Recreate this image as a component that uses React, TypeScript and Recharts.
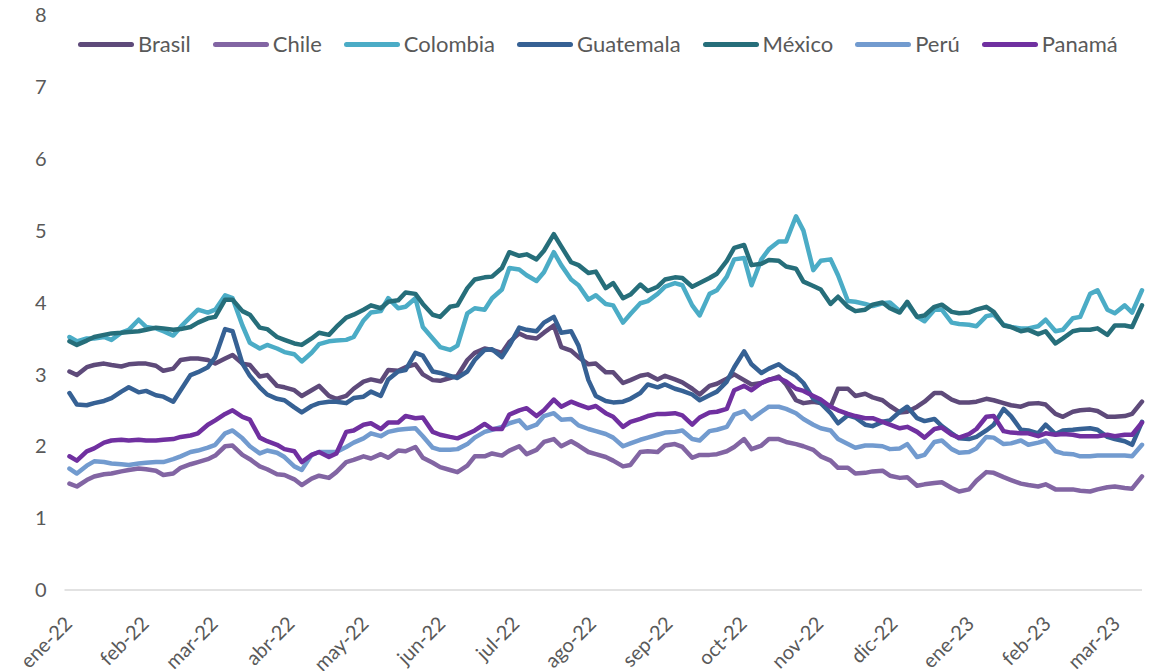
import { Line, LineChart, XAxis, YAxis } from "recharts";

// Fechas de observación (lunes y jueves)
const fechas = [
  "2022-01-03", "2022-01-06", "2022-01-10", "2022-01-13", "2022-01-17", "2022-01-20", "2022-01-24", "2022-01-27", "2022-01-31",
  "2022-02-03", "2022-02-07", "2022-02-10", "2022-02-14", "2022-02-17", "2022-02-21", "2022-02-24", "2022-02-28",
  "2022-03-03", "2022-03-07", "2022-03-10", "2022-03-14", "2022-03-17", "2022-03-21", "2022-03-24", "2022-03-28", "2022-03-31",
  "2022-04-04", "2022-04-07", "2022-04-11", "2022-04-14", "2022-04-18", "2022-04-21", "2022-04-25", "2022-04-28",
  "2022-05-02", "2022-05-05", "2022-05-09", "2022-05-12", "2022-05-16", "2022-05-19", "2022-05-23", "2022-05-26", "2022-05-30",
  "2022-06-02", "2022-06-06", "2022-06-09", "2022-06-13", "2022-06-16", "2022-06-20", "2022-06-23", "2022-06-27", "2022-06-30",
  "2022-07-04", "2022-07-07", "2022-07-11", "2022-07-14", "2022-07-18", "2022-07-21", "2022-07-25", "2022-07-28",
  "2022-08-01", "2022-08-04", "2022-08-08", "2022-08-11", "2022-08-15", "2022-08-18", "2022-08-22", "2022-08-25", "2022-08-29",
  "2022-09-01", "2022-09-05", "2022-09-08", "2022-09-12", "2022-09-15", "2022-09-19", "2022-09-22", "2022-09-26", "2022-09-29",
  "2022-10-03", "2022-10-06", "2022-10-10", "2022-10-13", "2022-10-17", "2022-10-20", "2022-10-24", "2022-10-27", "2022-10-31",
  "2022-11-03", "2022-11-07", "2022-11-10", "2022-11-14", "2022-11-17", "2022-11-21", "2022-11-24", "2022-11-28",
  "2022-12-01", "2022-12-05", "2022-12-08", "2022-12-12", "2022-12-15", "2022-12-19", "2022-12-22", "2022-12-26", "2022-12-29",
  "2023-01-02", "2023-01-05", "2023-01-09", "2023-01-12", "2023-01-16", "2023-01-19", "2023-01-23", "2023-01-26", "2023-01-30",
  "2023-02-02", "2023-02-06", "2023-02-09", "2023-02-13", "2023-02-16", "2023-02-20", "2023-02-23", "2023-02-27",
  "2023-03-02", "2023-03-06", "2023-03-09", "2023-03-13",
];

const brasil = [
  3.04, 2.99, 3.1, 3.13, 3.15, 3.13, 3.11, 3.14, 3.15, 3.15,
  3.12, 3.05, 3.08, 3.2, 3.22, 3.22, 3.2, 3.15, 3.22, 3.27,
  3.15, 3.13, 2.97, 2.99, 2.84, 2.82, 2.78, 2.7, 2.78, 2.84,
  2.7, 2.66, 2.7, 2.8, 2.9, 2.93, 2.9, 3.06, 3.05, 3.1,
  3.14, 3.0, 2.92, 2.91, 2.95, 2.98, 3.2, 3.3, 3.36, 3.34,
  3.3, 3.45, 3.57, 3.52, 3.5, 3.58, 3.68, 3.38, 3.33, 3.24,
  3.14, 3.15, 3.03, 3.03, 2.88, 2.92, 2.98, 3.0, 2.93, 2.98,
  2.93, 2.89, 2.8, 2.72, 2.84, 2.87, 2.94, 3.0, 2.92, 2.86,
  2.88, 2.92, 2.97, 2.86, 2.64, 2.6, 2.62, 2.6, 2.55, 2.8,
  2.8, 2.7, 2.73, 2.68, 2.64, 2.56, 2.47, 2.48, 2.55, 2.62,
  2.74, 2.74, 2.65, 2.61, 2.61, 2.62, 2.66, 2.64, 2.6, 2.57,
  2.55, 2.59, 2.6, 2.58, 2.45, 2.41, 2.48, 2.5, 2.51, 2.49,
  2.41, 2.41, 2.42, 2.45, 2.62,
];

const chile = [
  1.48, 1.44, 1.53, 1.58, 1.61, 1.62, 1.65, 1.67, 1.69, 1.68,
  1.66, 1.6, 1.62, 1.7, 1.75, 1.78, 1.82, 1.87, 2.0, 2.01,
  1.88, 1.82, 1.72, 1.68, 1.61, 1.6, 1.54, 1.46, 1.55, 1.59,
  1.56, 1.64, 1.78, 1.81, 1.86, 1.83, 1.89, 1.84, 1.94, 1.93,
  1.99, 1.84, 1.77, 1.71, 1.67, 1.64, 1.73, 1.86, 1.86, 1.9,
  1.87, 1.94, 2.0, 1.89, 1.95, 2.06, 2.1, 2.0, 2.07, 2.01,
  1.92, 1.89, 1.85, 1.8, 1.72, 1.74, 1.92, 1.93, 1.92, 2.01,
  2.03, 1.99, 1.84, 1.88, 1.88, 1.89, 1.93, 1.99, 2.1, 1.96,
  2.01, 2.1, 2.1, 2.06, 2.03, 2.0, 1.95, 1.86, 1.8, 1.7,
  1.7, 1.62, 1.63, 1.65, 1.66, 1.59, 1.56, 1.57, 1.45, 1.47,
  1.49, 1.5, 1.42, 1.37, 1.4, 1.52, 1.64, 1.63, 1.57, 1.53,
  1.48, 1.46, 1.44, 1.47, 1.4, 1.4, 1.4, 1.38, 1.37, 1.4,
  1.43, 1.44, 1.42, 1.41, 1.58,
];

const colombia = [
  3.52, 3.46, 3.5, 3.5, 3.52, 3.48, 3.58, 3.62, 3.76, 3.66,
  3.64, 3.6, 3.54, 3.66, 3.8, 3.9, 3.86, 3.9, 4.1, 4.06,
  3.68, 3.44, 3.36, 3.41, 3.36, 3.31, 3.28, 3.18, 3.3, 3.42,
  3.46, 3.47, 3.48, 3.52, 3.75, 3.86, 3.88, 4.06, 3.92, 3.94,
  4.06, 3.66, 3.5, 3.38, 3.34, 3.4, 3.85, 3.92, 3.9, 4.06,
  4.18, 4.48, 4.46, 4.38, 4.3, 4.42, 4.7, 4.52, 4.32, 4.24,
  4.04, 4.1, 3.98, 3.96, 3.72, 3.84, 3.99, 4.02, 4.12, 4.22,
  4.27, 4.24, 3.96, 3.82, 4.12, 4.17, 4.36, 4.6, 4.62, 4.24,
  4.6, 4.74, 4.85, 4.85, 5.2, 5.0, 4.45, 4.58, 4.6, 4.38,
  4.02, 4.01, 3.98, 3.95, 3.99, 4.0, 3.88, 3.99, 3.8, 3.74,
  3.9, 3.9, 3.72, 3.7, 3.69, 3.67, 3.81, 3.83, 3.69, 3.66,
  3.64, 3.64, 3.67, 3.76, 3.6, 3.62, 3.78, 3.8, 4.12, 4.17,
  3.9, 3.85, 3.96, 3.86, 4.17,
];

const guatemala = [
  2.74, 2.58, 2.57, 2.6, 2.63, 2.67, 2.76, 2.82, 2.75, 2.77,
  2.71, 2.69, 2.62, 2.78, 2.99, 3.03, 3.1, 3.24, 3.63, 3.6,
  3.15, 2.98, 2.82, 2.72, 2.66, 2.64, 2.54, 2.47, 2.56, 2.6,
  2.62, 2.62, 2.6, 2.67, 2.69, 2.76, 2.7, 2.93, 3.04, 3.06,
  3.3, 3.26, 3.04, 3.02, 2.98, 2.95, 3.04, 3.2, 3.34, 3.35,
  3.24, 3.4, 3.65, 3.62, 3.6, 3.72, 3.8, 3.58, 3.6, 3.4,
  2.92, 2.7, 2.63, 2.61, 2.62, 2.66, 2.74, 2.86, 2.82, 2.86,
  2.8, 2.77, 2.72, 2.64, 2.71, 2.76, 2.9, 3.1, 3.32, 3.14,
  3.02, 3.08, 3.14, 3.06, 2.98, 2.88, 2.66, 2.6, 2.46, 2.32,
  2.43, 2.4, 2.3, 2.28, 2.34, 2.36, 2.48, 2.55, 2.39, 2.35,
  2.38, 2.28, 2.18, 2.11, 2.1, 2.13, 2.22, 2.3, 2.52, 2.42,
  2.23, 2.22, 2.18, 2.3, 2.17, 2.22, 2.23, 2.24, 2.25, 2.23,
  2.13, 2.1, 2.07, 2.02, 2.34,
];

const mexico = [
  3.46, 3.41, 3.47, 3.52, 3.55, 3.57, 3.58, 3.59, 3.6, 3.62,
  3.65, 3.64, 3.62, 3.63, 3.66, 3.72, 3.78, 3.8, 4.04, 4.04,
  3.88, 3.83, 3.65, 3.63, 3.52, 3.48, 3.43, 3.41, 3.5, 3.58,
  3.55, 3.66, 3.79, 3.83, 3.9, 3.96, 3.92, 4.01, 4.03, 4.14,
  4.12, 3.98, 3.83, 3.8, 3.94, 3.96, 4.2, 4.32, 4.35, 4.36,
  4.48, 4.7, 4.65, 4.67, 4.6, 4.72, 4.95, 4.78, 4.56, 4.52,
  4.41, 4.43, 4.2, 4.27, 4.06, 4.11, 4.25, 4.16, 4.22, 4.32,
  4.35, 4.34, 4.22, 4.27, 4.34, 4.4, 4.58, 4.76, 4.8, 4.52,
  4.54, 4.59, 4.58, 4.5, 4.47, 4.29, 4.23, 4.18, 3.98, 4.08,
  3.94, 3.88, 3.9, 3.97, 4.0, 3.92, 3.86, 4.01, 3.8, 3.82,
  3.94, 3.97, 3.87, 3.85, 3.86, 3.9, 3.94, 3.87, 3.68, 3.66,
  3.6, 3.62, 3.56, 3.6, 3.43, 3.5, 3.6, 3.62, 3.62, 3.64,
  3.55, 3.68, 3.68, 3.66, 3.96,
];

const peru = [
  1.69, 1.62, 1.73, 1.79, 1.78, 1.76, 1.75, 1.74, 1.76, 1.77,
  1.78, 1.78, 1.82, 1.86, 1.92, 1.94, 1.98, 2.02, 2.18, 2.22,
  2.11, 2.0, 1.9, 1.94, 1.91, 1.85, 1.72, 1.67, 1.88, 1.92,
  1.92, 1.92, 1.99, 2.05, 2.11, 2.18, 2.14, 2.2, 2.23, 2.24,
  2.25, 2.14, 1.98, 1.95, 1.95, 1.96, 2.03, 2.12, 2.2, 2.23,
  2.27, 2.32, 2.36, 2.25, 2.3, 2.42, 2.46, 2.37, 2.38, 2.29,
  2.24, 2.21, 2.17, 2.12, 2.0, 2.04, 2.09, 2.12, 2.16, 2.19,
  2.2, 2.22, 2.1, 2.08, 2.21, 2.23, 2.27, 2.44, 2.49, 2.38,
  2.48, 2.55, 2.55, 2.52, 2.46, 2.38, 2.3, 2.25, 2.22, 2.1,
  2.03, 1.98, 2.01, 2.01, 2.0, 1.96, 1.97, 2.03, 1.85, 1.88,
  2.06, 2.08, 1.96, 1.91, 1.92, 1.97, 2.13, 2.12, 2.03, 2.04,
  2.08, 2.02, 2.05, 2.08, 1.93, 1.9, 1.89, 1.86, 1.86, 1.87,
  1.87, 1.87, 1.87, 1.86, 2.02,
];

const panama = [
  1.86, 1.8, 1.93, 1.97, 2.05, 2.08, 2.09, 2.08, 2.09, 2.08,
  2.08, 2.09, 2.1, 2.13, 2.15, 2.18, 2.3, 2.36, 2.45, 2.5,
  2.41, 2.37, 2.12, 2.07, 2.02, 1.96, 1.93, 1.78, 1.88, 1.92,
  1.85, 1.9, 2.2, 2.22, 2.3, 2.32, 2.24, 2.33, 2.33, 2.42,
  2.39, 2.4, 2.2, 2.16, 2.13, 2.11, 2.17, 2.22, 2.31, 2.24,
  2.24, 2.44, 2.5, 2.53, 2.42, 2.5, 2.65, 2.55, 2.62, 2.58,
  2.53, 2.56, 2.46, 2.41, 2.27, 2.34, 2.38, 2.42, 2.45, 2.45,
  2.46, 2.43, 2.3, 2.4, 2.47, 2.48, 2.52, 2.78, 2.84, 2.78,
  2.88, 2.93, 2.95, 2.9, 2.8, 2.77, 2.7, 2.65, 2.55, 2.5,
  2.45, 2.42, 2.39, 2.39, 2.34, 2.3, 2.25, 2.27, 2.2, 2.12,
  2.24, 2.26, 2.16, 2.12, 2.17, 2.24, 2.41, 2.42, 2.21, 2.19,
  2.18, 2.18, 2.14, 2.18, 2.16, 2.17, 2.16, 2.14, 2.14, 2.14,
  2.16, 2.14, 2.16, 2.16, 2.33,
];

const inicioMeses = [
  "2022-01-01", "2022-02-01", "2022-03-01", "2022-04-01", "2022-05-01", "2022-06-01", "2022-07-01", "2022-08-01",
  "2022-09-01", "2022-10-01", "2022-11-01", "2022-12-01", "2023-01-01", "2023-02-01", "2023-03-01",
];
const etiquetasMes = [
  "ene-22", "feb-22", "mar-22", "abr-22", "may-22", "jun-22", "jul-22", "ago-22",
  "sep-22", "oct-22", "nov-22", "dic-22", "ene-23", "feb-23", "mar-23",
];
const ticksY = [0, 1, 2, 3, 4, 5, 6, 7, 8];

const series = [
  { nombre: "Brasil", color: "#5e4a7a", valores: brasil },
  { nombre: "Chile", color: "#8265a3", valores: chile },
  { nombre: "Colombia", color: "#4bacc6", valores: colombia },
  { nombre: "Guatemala", color: "#366194", valores: guatemala },
  { nombre: "México", color: "#266e7a", valores: mexico },
  { nombre: "Perú", color: "#729bcf", valores: peru },
  { nombre: "Panamá", color: "#7030a0", valores: panama },
];

const FUENTE = "Lato, 'Open Sans', sans-serif";
const GRIS = "#595959";
const base = Date.parse("2022-01-01");
const aDia = (f: string) => Math.round((Date.parse(f) - base) / 86400000);

const datos = fechas.map((f, i) => {
  const fila: Record<string, number> = { dia: aDia(f) };
  series.forEach((s) => {
    fila[s.nombre] = s.valores[i];
  });
  return fila;
});

const diasMes = inicioMeses.map(aDia);

function TickMes({ x, y, payload }: any) {
  const i = diasMes.indexOf(payload.value);
  const tx = x + 9;
  const ty = y + 35;
  return (
    <text
      x={tx}
      y={ty}
      textAnchor="end"
      fill={GRIS}
      fontSize={20}
      fontFamily={FUENTE}
      transform={`rotate(-45, ${tx}, ${ty})`}
    >
      {etiquetasMes[i]}
    </text>
  );
}

function TickValor({ x, y, payload }: any) {
  return (
    <text x={x - 18} y={y} dy="0.36em" textAnchor="end" fill={GRIS} fontSize={20} fontFamily={FUENTE}>
      {payload.value}
    </text>
  );
}

function Leyenda() {
  return (
    <div
      style={{
        position: "absolute",
        left: 78,
        top: 30,
        display: "flex",
        alignItems: "center",
        fontFamily: FUENTE,
        fontSize: 22,
        color: GRIS,
        lineHeight: "28px",
        whiteSpace: "nowrap",
      }}
    >
      {series.map((s, i) => (
        <div
          key={s.nombre}
          style={{ display: "flex", alignItems: "center", marginRight: i < series.length - 1 ? 22 : 0 }}
        >
          <span
            style={{ width: 56, height: 5, borderRadius: 3, background: s.color, marginRight: 4, display: "inline-block" }}
          />
          <span>{s.nombre}</span>
        </div>
      ))}
    </div>
  );
}

export default function App() {
  return (
    <div style={{ position: "absolute", left: 0, top: 0, width: 1153, height: 671, background: "#fff" }}>
      <LineChart width={1153} height={671} data={datos} margin={{ top: 15, right: 11, bottom: 0, left: 14.5 }}>
        <XAxis
          dataKey="dia"
          type="number"
          domain={[0, 436]}
          ticks={diasMes}
          interval={0}
          tick={<TickMes />}
          tickLine={false}
          tickSize={0}
          tickMargin={0}
          height={81}
          axisLine={{ stroke: "#d9d9d9", strokeWidth: 1.5 }}
        />
        <YAxis
          type="number"
          domain={[0, 8]}
          ticks={ticksY}
          interval={0}
          width={50}
          tick={<TickValor />}
          tickLine={false}
          tickSize={0}
          tickMargin={0}
          axisLine={false}
        />
        {series.map((s) => (
          <Line
            key={s.nombre}
            type="linear"
            dataKey={s.nombre}
            stroke={s.color}
            strokeWidth={4.5}
            strokeLinejoin="round"
            strokeLinecap="round"
            dot={false}
            activeDot={false}
            isAnimationActive={false}
          />
        ))}
      </LineChart>
      <Leyenda />
    </div>
  );
}
